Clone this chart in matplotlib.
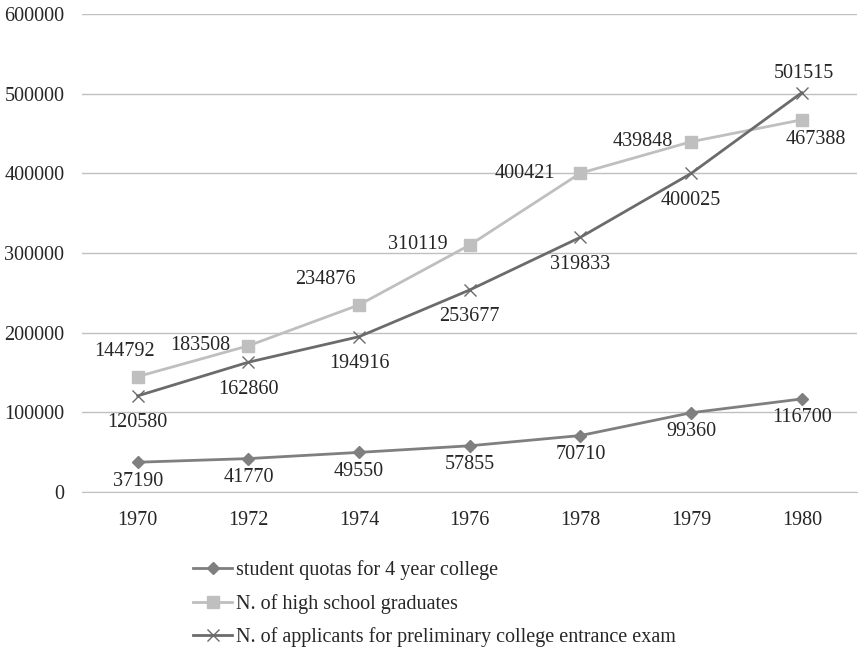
import matplotlib.pyplot as plt

plt.rcParams['font.family'] = ['Liberation Serif', 'DejaVu Serif']

years = ['1970', '1972', '1974', '1976', '1978', '1979', '1980']
quotas = [37190, 41770, 49550, 57855, 70710, 99360, 116700]
graduates = [144792, 183508, 234876, 310119, 400421, 439848, 467388]
applicants = [120580, 162860, 194916, 253677, 319833, 400025, 501515]

names = ['student quotas for 4 year college',
         'N. of high school graduates',
         'N. of applicants for preliminary college entrance exam']

# label offsets in pixels (dx, dy, horizontal alignment)
quota_off = [(0, -19, 'center')] * 7
grad_off = [(-13, 25, 'center'), (-18, 0, 'right'), (-3, 25, 'right'),
            (-22, 0, 'right'), (-25, 0, 'right'), (-18, 0, 'right'),
            (14, -20, 'center')]
appl_off = [(0, -27, 'center')] * 6 + [(2, 19, 'center')]

fig = plt.figure(figsize=(8.58, 6.48), dpi=100)
ax = fig.add_axes([0.096, 0.241, 0.903, 0.737])

x = list(range(len(years)))
ax.plot(x, quotas, color='#7f7f7f', lw=2.0, marker='D', ms=6.5, label=names[0], zorder=3)
ax.plot(x, graduates, color='#bfbfbf', lw=2.0, marker='s', ms=8, label=names[1], zorder=3)
ax.plot(x, applicants, color='#6b6b6b', lw=2.0, marker='x', ms=8, mew=1.0, label=names[2], zorder=4)

for vals, offs in ((quotas, quota_off), (graduates, grad_off), (applicants, appl_off)):
    for i, (v, (dx, dy, ha)) in enumerate(zip(vals, offs)):
        ax.annotate(str(v), (i, v), xytext=(dx, dy), textcoords='offset pixels',
                    ha=ha, va='center', fontsize=14.5, color='#262626')

ax.set_xlim(-0.5, len(years) - 0.5)
ax.set_ylim(0, 600000)
ax.set_yticks(range(0, 600001, 100000))
ax.set_xticks(x)
ax.set_xticklabels(years)
ax.grid(axis='y', color='#c0c0c0', lw=1)
ax.set_axisbelow(True)
for s in ['top', 'right', 'left']:
    ax.spines[s].set_visible(False)
ax.spines['bottom'].set_color('#c0c0c0')
ax.tick_params(length=0, labelsize=14.5, labelcolor='#262626')
ax.tick_params(axis='y', pad=13)
ax.tick_params(axis='x', pad=14)

fig.legend(loc='upper left', bbox_to_anchor=(183 / 858, 1 - 550 / 648),
           frameon=False, fontsize=14.5, handlelength=1.94, handletextpad=0.2,
           labelspacing=0.68, borderpad=0, labelcolor='#262626')

fig.savefig('out.png', dpi=100)
